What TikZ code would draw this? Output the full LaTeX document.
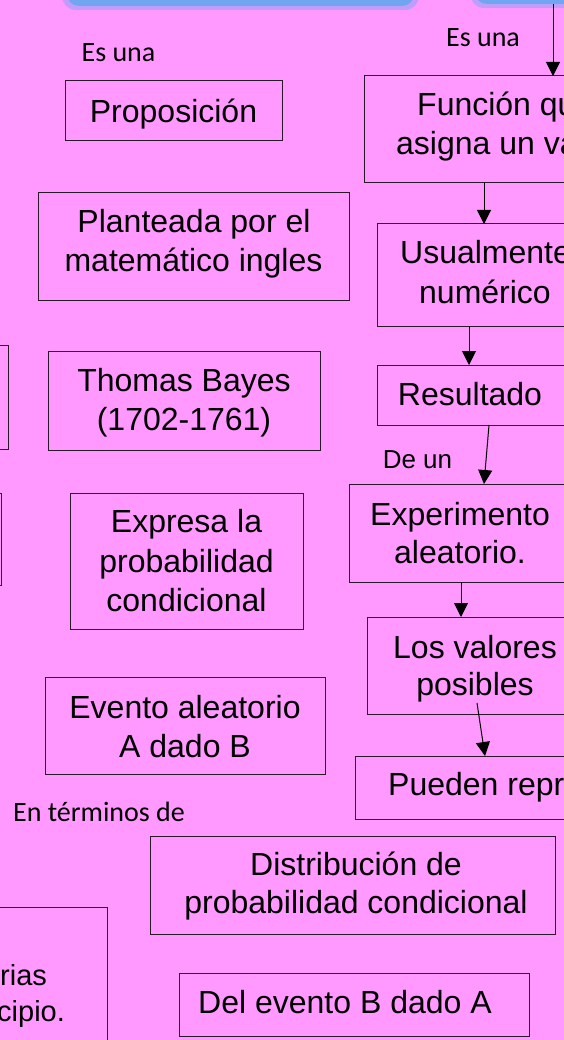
\documentclass[tikz,border=0pt]{standalone}
\usepackage{fontspec}
\setmainfont{Liberation Sans}
\newfontfamily\calibfont{Carlito}
\usetikzlibrary{arrows.meta}
\definecolor{bgpink}{RGB}{255,153,255}
\definecolor{barblue}{RGB}{112,165,240}
\definecolor{barglow}{RGB}{190,158,250}
\definecolor{edgecol}{RGB}{40,25,40}
\tikzset{
  box/.style={draw=edgecol, line width=1pt, inner sep=0pt, outer sep=0pt, rectangle},
  txt/.style={font=\fontsize{32}{38}\selectfont, inner sep=0pt, anchor=base, text=black},
  txts/.style={font=\fontsize{29}{34}\selectfont, inner sep=0pt, anchor=base west, text=black},
  lbl/.style={font=\calibfont\fontsize{28}{32}\selectfont, inner sep=0pt, anchor=base, text=black},
  lbla/.style={font=\fontsize{26}{30}\selectfont, inner sep=0pt, anchor=base, text=black},
  arr/.style={draw=black, line width=1pt, -{Triangle[width=14pt,length=14pt]}},
}
\newcommand\diabox[5]{\node[box, anchor=north west, minimum width={((#4)-(#2))*1pt}, minimum height={((#5)-(#3))*1pt}] (#1) at (#2,#3) {};}
\begin{document}
\begin{tikzpicture}[x=1pt,y=-1pt]
\useasboundingbox (0,0) rectangle (564,1040);
\clip (0,0) rectangle (564,1040);
\fill[bgpink] (0,0) rectangle (564,1040);
% top bars
\fill[barglow, rounded corners=14pt] (62,-40) rectangle (419,10);
\fill[barblue, rounded corners=12pt] (67,-40) rectangle (414,6);
\fill[barglow, rounded corners=14pt] (470,-40) rectangle (640,8);
\fill[barblue, rounded corners=12pt] (475,-40) rectangle (640,4);

% boxes
\diabox{prop}{65}{81}{282}{141}
\diabox{func}{364}{76}{660}{183}
\diabox{plant}{38}{193}{349}{300}
\diabox{usual}{377}{224}{660}{326}
\diabox{thomas}{48}{351}{320}{450}
\diabox{leftA}{-50}{345}{8}{449}
\diabox{result}{377}{365}{660}{425}
\diabox{exper}{349}{484}{660}{582}
\diabox{expresa}{70}{493}{303}{629}
\diabox{leftB}{-50}{493}{1}{585}
\diabox{valores}{367}{617}{660}{714}
\diabox{evento}{45}{677}{325}{774}
\diabox{pueden}{355}{756}{660}{819}
\diabox{distrib}{150}{836}{555}{934}
\diabox{leftC}{-150}{907}{107}{1100}
\diabox{delev}{179}{973}{529}{1036}

% texts
\node[txt] (t-prop) at (173.5,123) {Proposición};
\node[txt, anchor=base west] (t-func1) at (417,116) {Función qu};
\node[txt, anchor=base west] (t-func2) at (396,155) {asigna un va};
\node[txt] (t-plant1) at (194,233) {Planteada por el};
\node[txt] (t-plant2) at (193.5,272) {matemático ingles};
\node[txt, anchor=base west] (t-usual1) at (400,264) {Usualmente};
\node[txt] (t-usual2) at (485,303) {numérico};
\node[txt] (t-thomas1) at (184,391) {Thomas Bayes};
\node[txt] (t-thomas2) at (184,430) {(1702-1761)};
\node[txt] (t-result) at (470,405) {Resultado};
\node[txt] (t-exper1) at (460,525) {Experimento};
\node[txt] (t-exper2) at (460,563) {aleatorio.};
\node[txt] (t-expresa1) at (186.5,532) {Expresa la};
\node[txt] (t-expresa2) at (186.5,572) {probabilidad};
\node[txt] (t-expresa3) at (186.5,611) {condicional};
\node[txt] (t-valores1) at (475,658) {Los valores};
\node[txt] (t-valores2) at (475,695) {posibles};
\node[txt] (t-evento1) at (185,718) {Evento aleatorio};
\node[txt] (t-evento2) at (185,757) {A dado B};
\node[txt, anchor=base west] (t-pueden) at (388,795) {Pueden repr};
\node[txt] (t-distrib1) at (356,875) {Distribución de};
\node[txt] (t-distrib2) at (356,913) {probabilidad condicional};
\node[txts] (t-leftC1) at (0,985) {rias};
\node[txts] (t-leftC2) at (-3,1021) {cipio.};
\node[txt] (t-delev) at (345,1013) {Del evento B dado A};

% labels
\node[lbl] (l-esuna1) at (118.5,62) {Es una};
\node[lbl] (l-esuna2) at (483,47) {Es una};
\node[lbl] (l-terminos) at (99,821) {En términos de};
\node[lbla] (l-deun) at (417.5,468) {De un};

% connectors
\coordinate (c1) at (553,4);
\draw[arr] (c1) -- (c1 |- func.north);
\coordinate (c2) at (484,0);
\draw[arr] (c2 |- func.south) -- (c2 |- usual.north);
\coordinate (c3) at (469,0);
\draw[arr] (c3 |- usual.south) -- (c3 |- result.north);
\coordinate (c4a) at (489,0);
\coordinate (c4b) at (484,0);
\draw[arr] (c4a |- result.south) -- (c4b |- exper.north);
\coordinate (c5) at (461,0);
\draw[arr] (c5 |- exper.south) -- (c5 |- valores.north);
\coordinate (c6a) at (477,703);
\coordinate (c6b) at (485,0);
\draw[arr] (c6a) -- (c6b |- pueden.north);
\end{tikzpicture}
\end{document}
